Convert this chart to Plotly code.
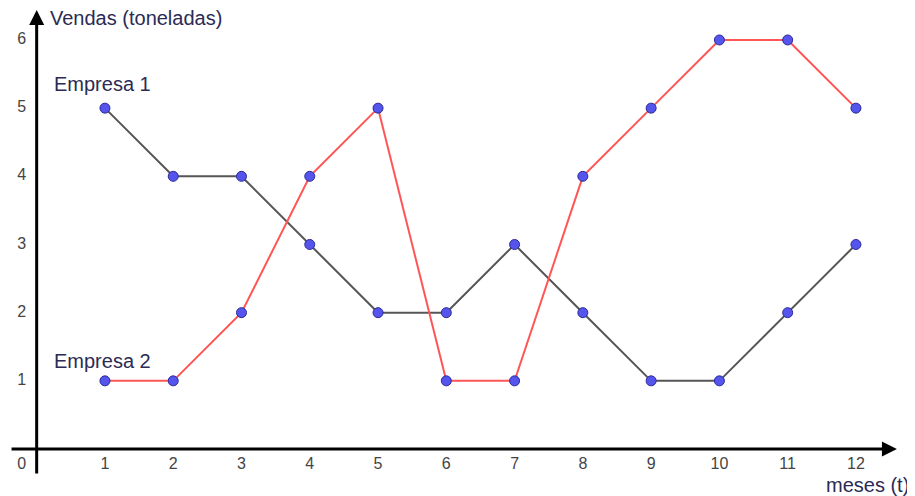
import plotly.graph_objects as go

meses = [1, 2, 3, 4, 5, 6, 7, 8, 9, 10, 11, 12]
empresa1 = [5, 4, 4, 3, 2, 2, 3, 2, 1, 1, 2, 3]
empresa2 = [1, 1, 2, 4, 5, 1, 1, 4, 5, 6, 6, 5]
y_ticks = [1, 2, 3, 4, 5, 6]

label_color = '#2b2b55'
num_color = '#444444'
font_family = 'Liberation Sans, Arial, sans-serif'

fig = go.Figure()

# linhas das empresas
fig.add_trace(go.Scatter(x=meses, y=empresa1, mode='lines+markers',
                         line=dict(color='#555555', width=2),
                         marker=dict(size=10, color='#5555ee', line=dict(color='#2a2a99', width=1))))
fig.add_trace(go.Scatter(x=meses, y=empresa2, mode='lines+markers',
                         line=dict(color='#ff5555', width=2),
                         marker=dict(size=10, color='#5555ee', line=dict(color='#2a2a99', width=1))))

# tick labels (o 0 fica a esquerda do eixo vertical)
fig.add_trace(go.Scatter(x=[-0.22] + meses, y=[-0.23] * 13, mode='text',
                         text=[str(m) for m in [0] + meses],
                         textfont=dict(size=16, color=num_color, family=font_family)))
fig.add_trace(go.Scatter(x=[-0.22] * len(y_ticks), y=y_ticks, mode='text',
                         text=[str(v) for v in y_ticks],
                         textfont=dict(size=16, color=num_color, family=font_family)))

# eixos com setas
fig.add_annotation(x=12.6, y=0, ax=-0.39, ay=0, xref='x', yref='y', axref='x', ayref='y',
                   showarrow=True, arrowhead=2, arrowsize=1, arrowwidth=3, arrowcolor='black', text='')
fig.add_annotation(x=0, y=6.44, ax=0, ay=-0.38, xref='x', yref='y', axref='x', ayref='y',
                   showarrow=True, arrowhead=2, arrowsize=1, arrowwidth=3, arrowcolor='black', text='')

# textos
lab = dict(size=20, color=label_color, family=font_family)
fig.add_annotation(x=0.166, y=6.32, xref='x', yref='y', text='Vendas (toneladas)', showarrow=False,
                   xanchor='left', font=lab)
fig.add_annotation(x=0.224, y=5.35, xref='x', yref='y', text='Empresa 1', showarrow=False,
                   xanchor='left', font=lab)
fig.add_annotation(x=0.224, y=1.29, xref='x', yref='y', text='Empresa 2', showarrow=False,
                   xanchor='left', font=lab)
fig.add_annotation(x=12.80, y=-0.53, xref='x', yref='y', text='meses (t)', showarrow=False,
                   xanchor='right', font=lab)

# a pagina tem margem de 8px, por isso 907x488
fig.update_layout(width=907, height=488, margin=dict(l=0, r=0, t=0, b=0),
                  plot_bgcolor='white', paper_bgcolor='white', showlegend=False,
                  xaxis=dict(range=[-0.420, 12.865], visible=False),
                  yaxis=dict(range=[-0.689, 6.469], visible=False))

fig.write_html("out.html")
